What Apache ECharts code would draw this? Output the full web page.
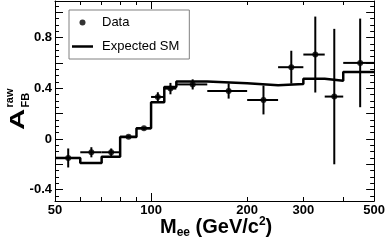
<!DOCTYPE html>
<html><head><meta charset="utf-8">
<script src="https://cdn.jsdelivr.net/npm/echarts@6/dist/echarts.min.js"></script>
<style>html,body{margin:0;padding:0;background:#fff}#c{width:388px;height:247px}</style>
</head><body><div id="c"></div>
<script>
// ---- data ----
const binEdges   = [50, 60, 70, 80, 90, 100, 110, 120, 150, 200, 250, 300, 350, 400, 500];
const expectedSM = [-0.15, -0.19, -0.14, 0.015, 0.085, 0.29, 0.41, 0.455, 0.44, 0.425, 0.435, 0.475, 0.46, 0.53];
const dataMass   = [55, 65, 75, 85, 95, 105, 115, 135, 175, 225, 275, 327, 375, 452];
const dataAfb    = [-0.15, -0.105, -0.105, 0.018, 0.084, 0.332, 0.398, 0.431, 0.379, 0.308, 0.567, 0.667, 0.335, 0.601];
const dataErr    = [0.075, 0.04, 0.03, 0.012, 0.012, 0.037, 0.045, 0.04, 0.06, 0.114, 0.13, 0.30, 0.535, 0.35];
// ---- axis ticks / labels ----
const xLabelValues = [50, 100, 200, 300, 500];
const xMinorTicks  = [60, 70, 80, 90, 200, 300, 400];
const xMajorTicks  = [100];
const yLabelValues = [-0.4, 0, 0.4, 0.8];
const yMajorTicks  = [-0.4, -0.2, 0, 0.2, 0.4, 0.6, 0.8, 1.0];
const yMinorTicks  = [-0.45, -0.35, -0.3, -0.25, -0.15, -0.1, -0.05, 0.05, 0.1, 0.15, 0.25, 0.3, 0.35,
                      0.45, 0.5, 0.55, 0.65, 0.7, 0.75, 0.85, 0.9, 0.95, 1.05];
const xTitle = { m: 'M', sub: 'ee', rest: ' (GeV/c', sup: '2', end: ')' };
const yTitle = { main: 'A', sup: 'raw', sub: 'FB' };

const FONT = "'Liberation Sans', Arial, Helvetica, sans-serif";
const L = v => Math.log10(v);
const X_MIN = L(50), X_MAX = L(500), Y_MIN = -0.49, Y_MAX = 1.09;

function xAx(pos, line, labels, ticks, len) {
  return {
    type: 'value', position: pos, min: X_MIN, max: X_MAX,
    axisLine: { show: line, onZero: false, lineStyle: { color: '#000', width: 1 } },
    axisTick: { show: true, inside: true, length: len, customValues: ticks.map(L), lineStyle: { color: '#000', width: 1 } },
    axisLabel: labels ? { show: true, customValues: labels.map(L), margin: 3, color: '#000',
      fontFamily: FONT, fontWeight: 'bold', fontSize: 13,
      formatter: v => String(Math.round(Math.pow(10, v))) } : { show: false },
    splitLine: { show: false }
  };
}
function yAx(pos, line, labels, ticks, len) {
  return {
    type: 'value', position: pos, min: Y_MIN, max: Y_MAX,
    axisLine: { show: line, onZero: false, lineStyle: { color: '#000', width: 1 } },
    axisTick: { show: true, inside: true, length: len, customValues: ticks, lineStyle: { color: '#000', width: 1 } },
    axisLabel: labels ? { show: true, customValues: labels, margin: 3, color: '#000',
      fontFamily: FONT, fontWeight: 'bold', fontSize: 13,
      formatter: v => (Math.abs(v) < 1e-9 ? '0' : v.toFixed(1)) } : { show: false },
    splitLine: { show: false }
  };
}

const stepData = binEdges.map((e, i) => [L(e), expectedSM[Math.min(i, expectedSM.length - 1)]]);
const errData = dataMass.map((m, i) => [L(m), dataAfb[i], dataErr[i], L(binEdges[i]), L(binEdges[i + 1])]);
const ptData = dataMass.map((m, i) => [L(m), dataAfb[i]]);

const chart = echarts.init(document.getElementById('c'), null, { renderer: 'canvas' });
chart.setOption({
  animation: false,
  backgroundColor: '#fff',
  grid: { left: 55, right: 12, top: 1, bottom: 46, containLabel: false },
  xAxis: [
    xAx('bottom', true, xLabelValues, xMinorTicks, 4),
    xAx('bottom', false, null, xMajorTicks, 8),
    xAx('top', true, null, xMinorTicks, 4),
    xAx('top', false, null, xMajorTicks, 8)
  ],
  yAxis: [
    yAx('left', true, yLabelValues, yMajorTicks, 8),
    yAx('left', false, null, yMinorTicks, 4),
    yAx('right', true, null, yMajorTicks, 8),
    yAx('right', false, null, yMinorTicks, 4)
  ],
  legend: {
    orient: 'vertical', left: 69, top: 10,
    padding: [6, 10, 6, 3], itemGap: 11, itemWidth: 21, itemHeight: 6,
    backgroundColor: '#fff', borderColor: '#808080', borderWidth: 1,
    textStyle: { fontFamily: FONT, fontSize: 13, color: '#000', padding: [0, 0, 0, 4] },
    data: [
      { name: 'Data', icon: 'circle' },
      { name: 'Expected SM', icon: 'path://M0,0L21,0L21,2.5L0,2.5Z' }
    ]
  },
  series: [
    {
      name: 'Expected SM', type: 'line', step: 'end', data: stepData,
      xAxisIndex: 0, yAxisIndex: 0, symbol: 'none',
      lineStyle: { color: '#000', width: 2.5 }, itemStyle: { color: '#000' }, z: 2
    },
    {
      name: 'errors', type: 'custom', data: errData, xAxisIndex: 0, yAxisIndex: 0, z: 3,
      renderItem: (params, api) => {
        const x = api.value(0), y = api.value(1), e = api.value(2), xl = api.value(3), xh = api.value(4);
        const pL = api.coord([xl, y]), pR = api.coord([xh, y]);
        const pT = api.coord([x, y + e]), pB = api.coord([x, y - e]);
        const st = { stroke: '#000', lineWidth: 2 };
        return { type: 'group', children: [
          { type: 'line', shape: { x1: pL[0], y1: pL[1], x2: pR[0], y2: pR[1] }, style: st },
          { type: 'line', shape: { x1: pT[0], y1: pT[1], x2: pB[0], y2: pB[1] }, style: st }
        ]};
      }
    },
    {
      name: 'Data', type: 'scatter', data: ptData, xAxisIndex: 0, yAxisIndex: 0,
      symbol: 'circle', symbolSize: 6, itemStyle: { color: '#000' }, z: 4
    }
  ],
  graphic: [
    {
      type: 'text', left: 160, top: 216, z: 10,
      style: {
        text: '{b|' + xTitle.m + '}{s|' + xTitle.sub + '}{b|' + xTitle.rest + '}{p|' + xTitle.sup + '}{b|' + xTitle.end + '}',
        rich: {
          b: { fontFamily: FONT, fontWeight: 'bold', fontSize: 20, lineHeight: 23, fill: '#000' },
          s: { fontFamily: FONT, fontWeight: 'bold', fontSize: 12, lineHeight: 12, verticalAlign: 'bottom', fill: '#000' },
          p: { fontFamily: FONT, fontWeight: 'bold', fontSize: 12, lineHeight: 12, verticalAlign: 'top', fill: '#000' }
        }
      }
    },
    {
      type: 'group', x: 18.5, y: 130, rotation: Math.PI / 2, z: 10,
      children: [
        { type: 'text', x: 0, y: 0, scaleX: 1.4, style: { text: yTitle.main, fontFamily: FONT, fontWeight: 'bold', fontSize: 21, fill: '#000', align: 'left', verticalAlign: 'middle' } },
        { type: 'text', x: 22.5, y: -9, style: { text: yTitle.sup, fontFamily: FONT, fontWeight: 'bold', fontSize: 11, fill: '#000', align: 'left', verticalAlign: 'middle' } },
        { type: 'text', x: 22.5, y: 7, style: { text: yTitle.sub, fontFamily: FONT, fontWeight: 'bold', fontSize: 11, fill: '#000', align: 'left', verticalAlign: 'middle' } }
      ]
    }
  ]
});
</script>
</body></html>
